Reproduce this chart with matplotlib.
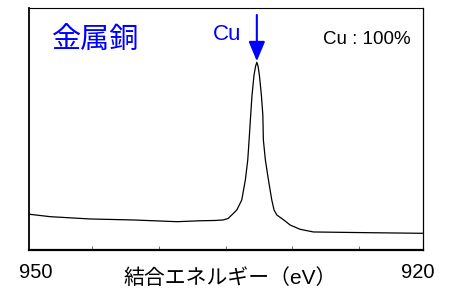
import matplotlib
matplotlib.use("Agg")
import matplotlib.pyplot as plt

plt.rcParams['font.family'] = ['Liberation Sans', 'Noto Sans CJK JP', 'DejaVu Sans']

energy = [949.68, 948.15, 945.15, 941.93, 938.63, 936.91, 935.79, 935.19, 934.81,
          934.54, 934.16, 933.79, 933.52, 933.34, 933.24, 933.12, 933.02, 932.87,
          932.75, 932.66, 932.57, 932.47, 932.32, 932.21, 932.17, 932.02, 931.79,
          931.54, 931.37, 931.16, 930.54, 930.17, 929.42, 928.42, 924.42, 920.43, 920.2]
intensity = [14.75, 13.76, 12.81, 12.40, 11.69, 12.07, 12.19, 12.40, 13.02,
             14.46, 16.53, 20.66, 28.93, 37.19, 45.45, 55.79, 64.05, 72.31,
             76.0, 77.56, 76.0, 72.31, 64.05, 55.79, 45.45, 37.19, 28.93,
             20.66, 16.53, 14.46, 11.98, 10.33, 8.55, 7.44, 7.15, 6.90, 6.90]

peak_energy = 932.66
title_text = "金属銅"
peak_label = "Cu"
comp_text = "Cu : 100%"
xlabel = "結合エネルギー（eV）"
tick_positions = [945, 940, 935, 930, 925]
end_labels = ["950", "920"]

fig = plt.figure(figsize=(4.53, 2.91), dpi=100)
ax = fig.add_axes([0.065, 0.141, 0.869, 0.8315])
ax.plot(energy, intensity, color='black', lw=0.9)
ax.set_xlim(949.7, 920.2)
ax.set_ylim(0, 100)
ax.set_yticks([])
ax.set_xticks(tick_positions)
ax.set_xticklabels([])
ax.tick_params(axis='x', direction='in', length=3, width=0.6, color='#555555')
ax.spines['left'].set_linewidth(1.3)
ax.spines['bottom'].set_linewidth(1.6)
ax.spines['top'].set_linewidth(0.8)
ax.spines['right'].set_linewidth(0.9)

ax.annotate("", xy=(peak_energy, 78.0), xytext=(peak_energy, 97.1),
            arrowprops=dict(arrowstyle='-|>,head_length=1.2,head_width=0.5',
                            color='#0000ff', lw=1.5, shrinkA=0, shrinkB=0))
ax.text(0.058, 0.865, title_text, transform=ax.transAxes, color='#0000ff',
        fontsize=21, ha='left', va='center')
ax.text(0.503, 0.89, peak_label, transform=ax.transAxes, color='#0000ff',
        fontsize=16, ha='center', va='center')
ax.text(0.968, 0.87, comp_text, transform=ax.transAxes, color='black',
        fontsize=13.5, ha='right', va='center')

fig.text(36/453, 1 - 272/291, end_labels[0], ha='center', va='center', fontsize=14.5)
fig.text(418/453, 1 - 272/291, end_labels[1], ha='center', va='center', fontsize=14.5)
fig.text(230/453, 1 - 278/291, xlabel, ha='center', va='center', fontsize=15)

fig.savefig("out.png", dpi=100)
